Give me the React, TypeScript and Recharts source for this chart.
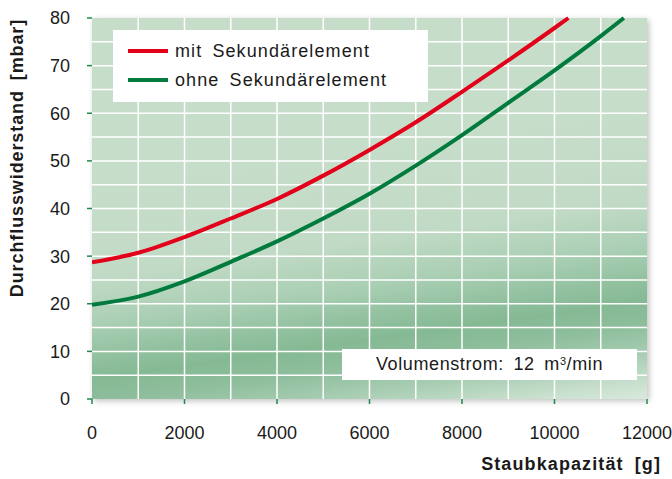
import { LineChart, Line, XAxis, YAxis, CartesianGrid } from "recharts"

const withX = [0, 1000, 2000, 3000, 4000, 5000, 6000, 7000, 8000, 9000, 10000, 10300]
const withY = [28.7, 30.7, 34.0, 37.9, 42.0, 46.9, 52.3, 58.1, 64.5, 71.1, 77.9, 80]

const withoutX = [0, 1000, 2000, 3000, 4000, 5000, 6000, 7000, 8000, 9000, 10000, 11000, 11500]
const withoutY = [19.8, 21.5, 24.7, 28.8, 33.1, 37.9, 43.1, 49.0, 55.4, 62.2, 69.0, 76.2, 80]

const xTicks = [0, 2000, 4000, 6000, 8000, 10000, 12000]
const yTicks = [0, 10, 20, 30, 40, 50, 60, 70, 80]

const seriesNames = ["mit Sekundärelement", "ohne Sekundärelement"]

const withData = withX.map((x, i) => ({ x, y: withY[i] }))
const withoutData = withoutX.map((x, i) => ({ x, y: withoutY[i] }))

const RED = "#e2001a"
const GREEN = "#007a3d"
const TICK_GREEN = "#1f8a4c"
const FONT = "'Liberation Sans', Arial, Helvetica, sans-serif"

export default function App() {
  return (
    <div style={{ position: "absolute", left: 0, top: 0, width: 672, height: 479, background: "#fff", fontFamily: FONT }}>
      {/* soft shadow behind the plot area */}
      <div
        style={{
          position: "absolute",
          left: 92,
          top: 18,
          width: 555,
          height: 381,
          boxShadow: "2px 2px 6px rgba(0,0,0,0.25)",
        }}
      />
      <div style={{ position: "absolute", left: 0, top: 0 }}>
        <LineChart width={672} height={479} margin={{ top: 18, right: 25, bottom: 50, left: 12 }}>
          <defs>
            <linearGradient id="bgGrad" gradientUnits="userSpaceOnUse" x1={360} y1={150} x2={402} y2={447}>
              <stop offset="0" stopColor="#c6ddca" />
              <stop offset="0.3" stopColor="#c1dac5" />
              <stop offset="0.45" stopColor="#aacfb4" />
              <stop offset="0.55" stopColor="#94c2a1" />
              <stop offset="0.63" stopColor="#85b994" />
              <stop offset="0.71" stopColor="#8ebe9c" />
              <stop offset="0.8" stopColor="#a6ccb1" />
              <stop offset="0.9" stopColor="#c9e0ce" />
              <stop offset="1" stopColor="#e6f1e8" />
            </linearGradient>
          </defs>
          <CartesianGrid
            fill="url(#bgGrad)"
            fillOpacity={1}
            stroke="#ffffff"
            strokeWidth={1.5}
            verticalCoordinatesGenerator={({ offset }: any) =>
              Array.from({ length: 11 }, (_, i) => offset.left + (offset.width * (i + 1)) / 12)
            }
            horizontalCoordinatesGenerator={({ offset }: any) =>
              Array.from({ length: 15 }, (_, i) => offset.top + (offset.height * (i + 1)) / 16)
            }
          />
          <XAxis
            type="number"
            dataKey="x"
            domain={[0, 12000]}
            ticks={xTicks}
            interval={0}
            height={30}
            axisLine={false}
            tickLine={{ stroke: TICK_GREEN, strokeWidth: 1.5 }}
            tickSize={5}
            tickMargin={22}
            tick={{ fill: "#1a1a1a", fontSize: 18, fontFamily: FONT }}
            allowDataOverflow
          />
          <YAxis
            type="number"
            domain={[0, 80]}
            ticks={yTicks}
            interval={0}
            width={80}
            axisLine={false}
            tickLine={{ stroke: TICK_GREEN, strokeWidth: 1.5 }}
            tickSize={5}
            tickMargin={17}
            tick={{ fill: "#1a1a1a", fontSize: 18, fontFamily: FONT }}
          />
          <Line
            data={withData}
            dataKey="y"
            type="monotone"
            stroke={RED}
            strokeWidth={4}
            dot={false}
            isAnimationActive={false}
            name={seriesNames[0]}
          />
          <Line
            data={withoutData}
            dataKey="y"
            type="monotone"
            stroke={GREEN}
            strokeWidth={4}
            dot={false}
            isAnimationActive={false}
            name={seriesNames[1]}
          />
        </LineChart>
      </div>

      {/* legend box */}
      <div
        style={{
          position: "absolute",
          left: 113,
          top: 30,
          width: 315,
          height: 72,
          background: "#fff",
          fontSize: 18,
          color: "#1a1a1a",
        }}
      >
        {[RED, GREEN].map((c, i) => (
          <div key={c} style={{ position: "absolute", left: 15, top: 9 + i * 29, height: 24, display: "flex", alignItems: "center" }}>
            <div style={{ width: 40, height: 4, background: c, marginRight: 7 }} />
            <span style={{ letterSpacing: 1.1, wordSpacing: 4, whiteSpace: "nowrap" }}>{seriesNames[i]}</span>
          </div>
        ))}
      </div>

      {/* flow rate box */}
      <div
        style={{
          position: "absolute",
          left: 342,
          top: 349,
          width: 295,
          height: 31,
          background: "#fff",
          display: "flex",
          alignItems: "center",
          justifyContent: "center",
          fontSize: 18,
          color: "#1a1a1a",
          letterSpacing: 0.6,
          wordSpacing: 4,
          whiteSpace: "nowrap",
        }}
      >
        <span>
          Volumenstrom: 12 m<sup style={{ fontSize: 11, verticalAlign: "top", lineHeight: "14px" }}>3</sup>/min
        </span>
      </div>

      {/* axis titles */}
      <div
        style={{
          position: "absolute",
          left: 17,
          top: 158,
          transform: "translate(-50%, -50%) rotate(-90deg)",
          fontWeight: "bold",
          fontSize: 18,
          whiteSpace: "nowrap",
          letterSpacing: 0.9,
          wordSpacing: 4,
          color: "#1a1a1a",
        }}
      >
        Durchflusswiderstand [mbar]
      </div>
      <div
        style={{
          position: "absolute",
          right: 11,
          top: 454,
          fontWeight: "bold",
          fontSize: 18,
          whiteSpace: "nowrap",
          letterSpacing: 1.1,
          wordSpacing: 5,
          color: "#1a1a1a",
        }}
      >
        Staubkapazität [g]
      </div>
    </div>
  )
}
